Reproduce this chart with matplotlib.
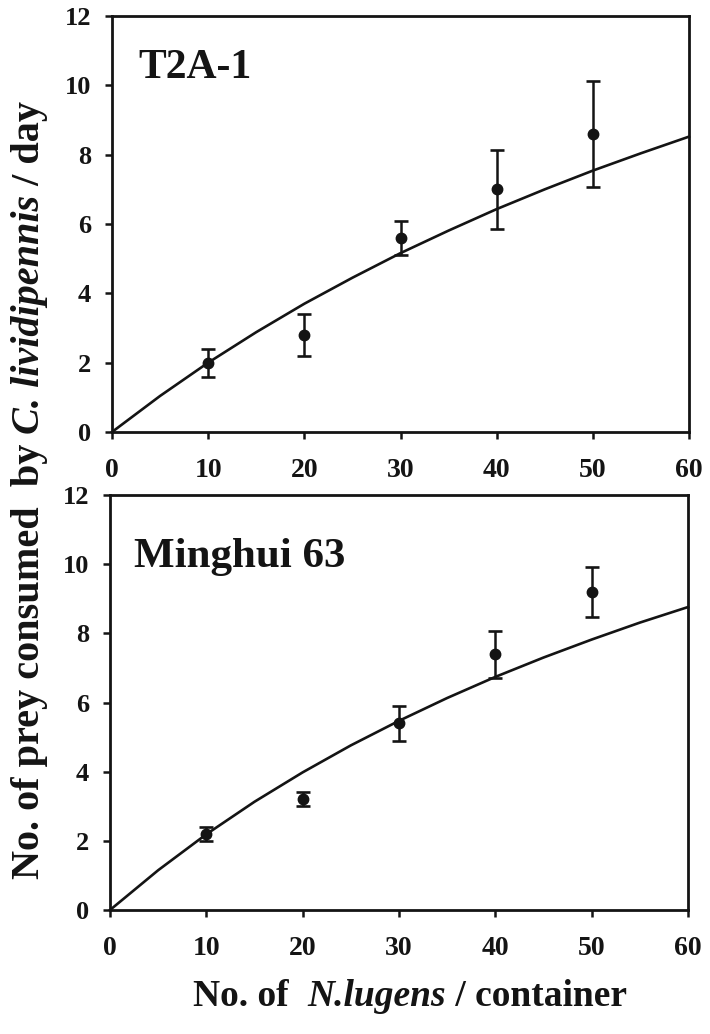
import matplotlib
matplotlib.use("Agg")
import matplotlib.pyplot as plt

# ---- data ----
density = [10, 20, 30, 40, 50]
t2a_mean = [2.0, 2.8, 5.6, 7.0, 8.6]
t2a_se = [0.4, 0.6, 0.5, 1.13, 1.53]
mh_mean = [2.2, 3.2, 5.4, 7.4, 9.2]
mh_se = [0.2, 0.2, 0.5, 0.68, 0.72]

# fitted curves
curve_x = [0, 5, 10, 15, 20, 25, 30, 35, 40, 45, 50, 55, 60]
t2a_curve = [0, 1.04, 2.0, 2.88, 3.70, 4.45, 5.16, 5.81, 6.43, 7.00, 7.54, 8.04, 8.52]
mh_curve = [0, 1.15, 2.19, 3.13, 3.98, 4.76, 5.47, 6.13, 6.74, 7.30, 7.82, 8.31, 8.76]

panel_names = ["T2A-1", "Minghui 63"]
xticks = [0, 10, 20, 30, 40, 50, 60]
yticks = [0, 2, 4, 6, 8, 10, 12]
ylabel_parts = [("No. of prey consumed  by ", "normal"), ("C. lividipennis", "italic"), (" / day", "normal")]
xlabel_parts = [("No. of  ", "normal"), ("N.lugens", "italic"), (" / container", "normal")]

FONT = "Liberation Serif"
INK = "#141414"
plt.rcParams["font.family"] = FONT
plt.rcParams["font.weight"] = "bold"

W, H = 710, 1034
fig = plt.figure(figsize=(W / 100, H / 100), dpi=100)
renderer = fig.canvas.get_renderer()

def add_axes(left, top, right, bottom):
    return fig.add_axes([left / W, 1 - bottom / H, (right - left) / W, (bottom - top) / H])

ax1 = add_axes(112, 16, 689, 432)
ax2 = add_axes(110, 495, 688, 910)

panels = [
    (ax1, t2a_mean, t2a_se, t2a_curve, panel_names[0], (2.7, 10.2), 30),
    (ax2, mh_mean, mh_se, mh_curve, panel_names[1], (2.5, 9.92), 31),
]

for ax, mean, se, curve, name, pos, fs in panels:
    ax.plot(curve_x, curve, color=INK, lw=1.9, zorder=2, clip_on=False)
    ax.errorbar(density, mean, yerr=se, fmt="o", color=INK, ms=7.5,
                elinewidth=1.8, capsize=5, capthick=1.9, zorder=3)
    ax.set_xlim(0, 60)
    ax.set_ylim(0, 12)
    ax.set_xticks(xticks)
    ax.set_yticks(yticks)
    ax.tick_params(axis="both", direction="out", length=5, width=1.8,
                   colors=INK, top=False, right=False)
    ax.tick_params(axis="y", pad=10, labelsize=19)
    ax.tick_params(axis="x", pad=14, labelsize=20)
    for lab in ax.get_xticklabels() + ax.get_yticklabels():
        lab.set_fontweight("bold")
    for sp in ax.spines.values():
        sp.set_linewidth(2.0)
        sp.set_color(INK)
    ax.text(pos[0], pos[1], name, fontsize=fs, fontweight="bold", color=INK,
            ha="left", va="baseline")

# x label from parts (bold + bold italic)
objs = []
for s, st in xlabel_parts:
    t = fig.text(0, 1 - 997 / H, s, fontsize=27, fontweight="bold", style=st,
                 color=INK, ha="left", va="center")
    objs.append(t)
widths = [t.get_window_extent(renderer).width for t in objs]
x0 = 410 - sum(widths) / 2
for t, w in zip(objs, widths):
    t.set_x(x0 / W)
    x0 += w

# y label from parts, rotated
objs = []
for s, st in ylabel_parts:
    t = fig.text(30 / W, 0, s, fontsize=29, fontweight="bold", style=st,
                 color=INK, rotation=90, rotation_mode="anchor",
                 ha="left", va="center")
    objs.append(t)
heights = [t.get_window_extent(renderer).height for t in objs]
y0 = (H - 490) - sum(heights) / 2
for t, h in zip(objs, heights):
    t.set_y(y0 / H)
    y0 += h

fig.savefig("out.png", dpi=100)
